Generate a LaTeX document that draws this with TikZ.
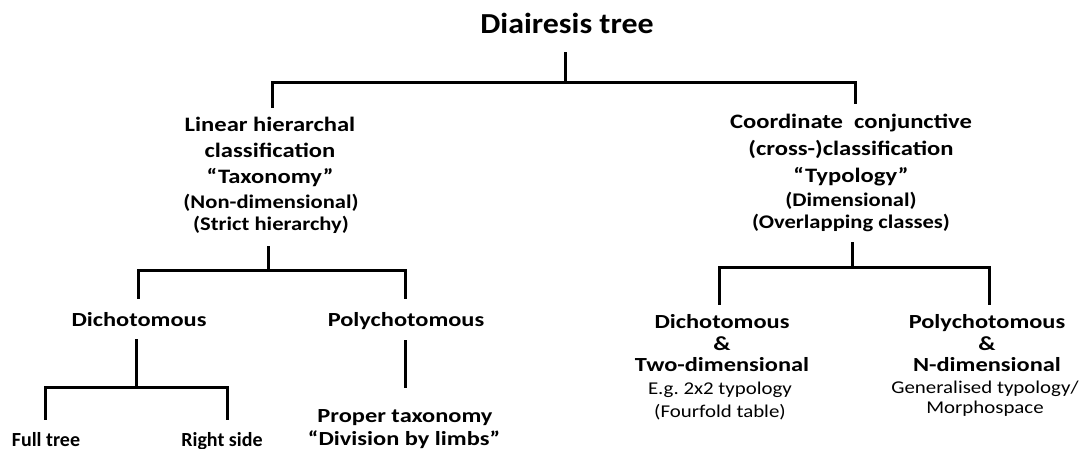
\documentclass[tikz,border=0pt]{standalone}
\usepackage{fontspec}
\setmainfont{Carlito}
\frenchspacing
\newfontfamily\fstT[FakeStretch=1.1]{Carlito}
\newfontfamily\fstH[FakeStretch=1.2]{Carlito}
\newfontfamily\fstS[FakeStretch=1.17]{Carlito}
\newfontfamily\fstL[FakeStretch=1.22]{Carlito}
\newfontfamily\fstN[FakeStretch=1.16]{Carlito}
\begin{document}
\begin{tikzpicture}[x=1pt,y=-1pt,
  tl/.style={font=\fstT\bfseries\fontsize{29}{32}\selectfont, anchor=base, inner sep=0pt},
  hb/.style={font=\fstH\bfseries\fontsize{20.5}{24}\selectfont, anchor=base, inner sep=0pt},
  hs/.style={font=\fstS\bfseries\fontsize{19.3}{22}\selectfont, anchor=base, inner sep=0pt},
  lb/.style={font=\fstL\bfseries\fontsize{20}{23}\selectfont, anchor=base, inner sep=0pt},
  lf/.style={font=\bfseries\fontsize{20}{23}\selectfont, anchor=base, inner sep=0pt},
  nr/.style={font=\fstN\fontsize{18}{21}\selectfont, anchor=base, inner sep=0pt},
  conn/.style={draw=black, line width=3pt, line join=miter}]
\useasboundingbox (0,0) rectangle (1092,448);
% title
\node[tl] (title) at (567,33) {Diairesis tree};
% level 1 left
\node[hb] (la1) at (270,131) {Linear hierarchal};
\node[hb] (la2) at (270,157) {classification};
\node[hb] (la3) at (270,183) {“Taxonomy”};
\node[hs] (la4) at (271,208) {(Non-dimensional)};
\node[hs] (la5) at (271,230) {(Strict hierarchy)};
% level 1 right
\node[hb] (ra1) at (851,128) {Coordinate\ \ conjunctive};
\node[hb] (ra2) at (851,155) {(cross-)classification};
\node[hb] (ra3) at (851,182) {“Typology”};
\node[hs] (ra4) at (851,206) {(Dimensional)};
\node[hs] (ra5) at (851,228) {(Overlapping classes)};
% level 2 left
\node[lb] (ld) at (139,326) {Dichotomous};
\node[lb] (lp) at (406,326) {Polychotomous};
\node[lf] (lf) at (46,446) {Full tree};
\node[lf] (lr) at (222,446) {Right side};
\node[lb] (pt1) at (405,422) {Proper taxonomy};
\node[lb] (pt2) at (404,445) {“Division by limbs”};
% level 2 right
\node[lb] (rd1) at (722,328) {Dichotomous};
\node[lb] (rd2) at (722,350) {\&};
\node[lb] (rd3) at (722,371) {Two-dimensional};
\node[nr] (rd4) at (720,394) {E.g. 2x2 typology};
\node[nr] (rd5) at (720,417) {(Fourfold table)};
\node[lb] (rp1) at (987,328) {Polychotomous};
\node[lb] (rp2) at (987,350) {\&};
\node[lb] (rp3) at (987,371) {N-dimensional};
\node[nr] (rp4) at (985,393) {Generalised typology/};
\node[nr] (rp5) at (985,413) {Morphospace};
% connectors
\draw[conn] ([xshift=-2pt]title.south |- 0,52) -- ([xshift=-2pt]title.south |- 0,82)
  -| ([xshift=2pt]la1.north |- 0,108);
\draw[conn] ([xshift=-2pt]title.south |- 0,82) -| ([xshift=4pt]ra1.north |- 0,104);
\draw[conn] ([xshift=-3pt]la5.south |- 0,246) -- ([xshift=-3pt]la5.south |- 0,270)
  -| ([xshift=-1pt]ld.north |- 0,299);
\draw[conn] ([xshift=-3pt]la5.south |- 0,270) -| ([xshift=-1pt]lp.north |- 0,299);
\draw[conn] ([xshift=-3pt]ld.south |- 0,339) -- ([xshift=-3pt]ld.south |- 0,387)
  -| ([xshift=-1pt]lf.north |- 0,420);
\draw[conn] ([xshift=-3pt]ld.south |- 0,387) -| ([xshift=5pt]lr.north |- 0,420);
\draw[conn] ([xshift=-1pt]lp.south |- 0,340) -- ([xshift=-1pt]lp.south |- 0,388);
\draw[conn] ([xshift=1pt]ra5.south |- 0,242) -- ([xshift=1pt]ra5.south |- 0,267)
  -| ([xshift=-3pt]rd1.north |- 0,305);
\draw[conn] ([xshift=1pt]ra5.south |- 0,267) -| ([xshift=2pt]rp1.north |- 0,305);
\end{tikzpicture}
\end{document}
